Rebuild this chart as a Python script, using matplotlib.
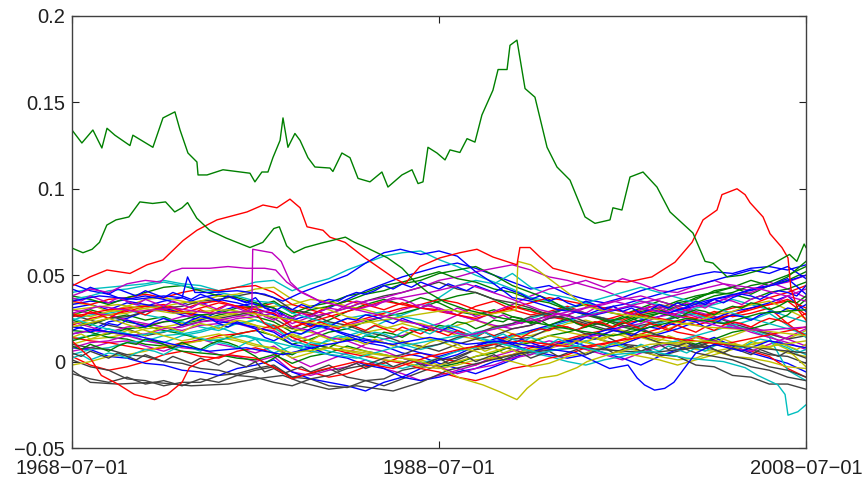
import numpy as np
import matplotlib
matplotlib.use("Agg")
import matplotlib.pyplot as plt

plt.rcParams['font.family'] = ['Liberation Sans', 'DejaVu Sans']

# ---------------- data ----------------
years = np.arange(1968.5, 2009.0, 1.0)          # yearly grid for the dense band (41 points)
half_years = np.arange(1968.5, 2008.75, 0.5)    # half-year grid (81 points)

# dense band series, values in thousandths
band_b01 = [31,33,30,34,32,35,37,33,36,34,31,27,24,27,31,36,41,45,49,52,55,57,54,50,46,42,44,39,36,34,37,41,44,47,50,52,51,54,55,53,56]
band_g02 = [24,21,25,27,24,26,22,24,27,29,26,23,17,21,24,29,33,36,33,37,34,29,27,30,26,23,27,31,33,29,27,31,35,32,37,40,43,39,44,47,52]
band_r03 = [21,25,27,29,32,33,30,34,35,32,31,34,29,27,32,35,33,30,34,31,30,27,32,35,30,27,29,32,28,25,24,28,30,27,25,29,26,28,31,22,28]
band_c04 = [13,15,19,16,12,11,15,17,20,16,13,11,4,9,12,15,18,23,27,31,37,44,47,45,51,43,39,37,34,31,29,25,22,26,28,24,20,19,15,9,4]
band_m05 = [6,8,11,12,9,6,10,13,10,8,5,9,2,-3,1,5,10,13,15,19,22,27,24,29,33,38,42,44,47,43,48,45,41,40,44,47,43,41,46,42,37]
band_y06 = [34,33,29,32,36,37,35,33,29,27,24,21,19,17,14,13,17,19,22,19,17,21,24,20,16,15,18,22,24,21,18,15,13,11,8,12,15,19,16,13,18]
band_k07 = [-7,-10,-12,-9,-13,-11,-14,-10,-12,-8,-5,-3,-9,-7,-4,-9,-11,-14,-10,-6,-2,3,7,10,7,4,9,12,15,12,10,6,3,6,9,12,10,7,4,3,-1]
band_b08 = [16,18,23,25,29,30,27,24,29,32,34,29,25,21,19,15,11,9,5,3,-1,-4,-7,-3,1,6,8,12,9,5,2,-2,3,7,10,14,9,5,2,-1,-6]
band_g09 = [27,30,27,23,21,18,16,13,12,16,18,15,10,13,17,19,23,26,28,31,35,38,40,36,32,30,27,24,21,18,23,27,29,34,36,41,43,47,44,49,58]
band_r10 = [3,-2,-5,-3,0,4,6,3,2,6,8,5,-3,-6,-9,-7,-3,-1,3,5,2,0,-2,2,4,8,10,13,16,18,22,24,21,17,15,12,8,6,3,-4,-9]
band_c11 = [40,42,43,44,45,47,45,44,41,43,46,47,41,45,48,53,57,61,63,64,59,55,50,46,42,37,35,31,28,25,23,20,23,27,31,33,36,33,30,26,23]
band_m12 = [23,20,17,15,12,10,8,7,4,3,0,3,-6,-8,-5,-3,1,-4,-7,-11,-8,-5,-2,3,6,9,12,10,7,4,1,5,9,11,14,12,8,6,10,14,19]
band_y13 = [10,13,14,16,19,20,22,25,26,28,31,32,33,36,35,32,30,27,23,22,19,15,13,10,14,18,20,17,15,12,8,6,3,1,2,6,8,10,12,7,-3]
band_k14 = [27,24,21,19,15,17,21,23,25,27,29,25,19,24,28,31,35,38,40,43,46,42,40,36,34,31,27,25,22,19,17,21,23,26,28,26,22,19,16,13,15]
band_b15 = [33,35,34,36,38,36,33,37,39,36,33,31,24,22,19,16,13,11,8,5,3,6,9,13,15,18,21,24,27,31,33,36,39,42,44,47,50,53,51,55,48]
band_g16 = [18,17,14,13,10,9,6,5,4,2,1,4,-1,3,5,9,6,4,2,-1,-3,-1,3,5,9,11,15,17,20,23,25,29,31,35,38,40,39,36,40,42,46]
band_r17 = [35,33,36,37,39,37,40,42,41,43,44,40,33,30,27,22,25,28,31,33,36,34,30,28,32,29,26,24,21,24,27,30,33,31,28,25,27,31,33,35,27]
band_c18 = [24,27,28,30,27,25,23,20,18,22,24,21,14,18,21,25,27,29,26,24,20,17,14,11,9,5,3,0,-2,1,3,6,10,12,15,18,21,24,28,21,14]
band_m19 = [16,18,17,20,21,23,26,27,24,22,19,18,12,15,19,21,24,26,30,33,31,27,24,21,19,21,25,27,31,33,36,38,35,32,29,26,23,20,17,13,9]
band_y20 = [28,26,29,30,33,31,29,27,25,23,21,19,15,12,10,8,6,4,2,1,-2,0,3,6,9,12,15,13,11,8,5,3,1,-2,1,4,7,10,8,5,3]
band_k21 = [1,-3,-5,-10,-11,-14,-12,-12,-8,-7,-4,-2,-9,-10,-14,-15,-11,-10,-5,-3,1,2,7,8,13,14,19,20,16,15,10,9,4,3,-2,-3,-8,-9,-13,-13,-16]
band_b22 = [8,7,3,2,-1,-2,-5,-6,-8,-4,-2,1,-6,-10,-12,-14,-17,-12,-9,-4,1,4,9,12,10,6,4,2,4,8,10,14,16,19,23,25,29,31,34,38,29]
band_g23 = [38,36,33,37,40,43,44,41,38,37,34,31,26,30,32,35,39,41,45,47,51,53,55,50,44,40,36,30,27,24,20,18,15,13,10,13,17,19,22,27,36]
band_r24 = [14,12,11,9,7,8,11,12,15,16,18,21,14,10,8,5,3,1,-1,-4,-6,-9,-11,-8,-4,-2,2,4,8,10,13,16,19,23,25,28,31,33,37,40,44]
band_c25 = [4,7,8,11,12,15,16,18,21,22,24,20,12,9,6,4,1,-2,-4,-1,2,6,8,11,15,17,20,23,27,29,31,35,33,30,27,24,21,18,14,-5,-11]
band_m26 = [30,28,27,24,22,20,18,21,22,25,26,28,22,26,28,31,35,37,40,43,47,49,52,54,56,53,49,47,44,41,37,35,32,29,26,23,21,17,14,11,7]
band_y27 = [-2,0,3,4,6,9,10,12,14,12,9,8,2,5,8,6,4,1,0,-3,-4,-2,1,2,4,7,8,11,12,14,16,14,11,10,7,6,3,2,0,-3,-4]
band_k28 = [20,22,25,26,29,31,32,35,36,38,40,37,30,28,23,21,17,15,11,9,6,10,13,15,19,21,25,27,23,21,17,15,11,9,5,3,1,-3,-5,-9,-11]
band_b29 = [45,41,39,35,33,31,28,27,23,22,20,17,10,8,4,2,-2,-4,-9,-11,-9,-6,-4,0,2,6,8,12,14,18,20,24,26,30,32,36,38,42,44,48,39]
band_g30 = [12,15,16,19,20,23,24,27,28,31,32,35,28,32,34,38,40,44,46,49,52,48,46,42,40,36,34,30,28,24,22,26,28,32,34,38,40,44,46,50,55]
band_r31 = [26,28,30,31,32,30,28,31,34,32,30,28,20,23,26,29,32,35,33,31,29,27,25,28,31,34,37,35,33,31,29,27,25,23,21,24,27,30,33,36,31]
band_c32 = [36,38,41,42,44,46,44,42,40,38,35,34,28,25,22,19,16,13,10,7,10,13,17,19,22,25,28,31,34,37,40,43,40,37,34,31,28,25,22,19,16]
band_m33 = [8,11,12,15,16,19,20,23,24,26,28,30,20,18,14,12,8,6,2,-1,-3,-7,-4,-2,2,4,8,10,14,16,20,22,26,28,32,34,38,40,44,46,50]
band_y34 = [22,24,27,28,31,32,34,35,38,39,42,43,36,32,30,26,24,20,18,14,12,8,6,2,0,-3,-1,3,5,9,11,15,17,21,23,27,29,33,35,30,25]
band_k35 = [10,8,7,4,3,0,-1,-4,-5,-8,-9,-12,-14,-10,-8,-4,-2,2,4,8,10,14,16,20,22,26,28,31,27,25,21,19,15,13,9,7,3,1,-3,-5,-9]

band_series = [band_b01, band_g02, band_r03, band_c04, band_m05, band_y06, band_k07,
               band_b08, band_g09, band_r10, band_c11, band_m12, band_y13, band_k14,
               band_b15, band_g16, band_r17, band_c18, band_m19, band_y20, band_k21,
               band_b22, band_g23, band_r24, band_c25, band_m26, band_y27, band_k28,
               band_b29, band_g30, band_r31, band_c32, band_m33, band_y34, band_k35]

# half-year band series, values in thousandths (81 points each)
half_b1 = [18,20,17,19,22,21,24,22,20,23, 25,23,21,24,26,25,22,20,23,21, 19,14,12,15,17,16,19,21,20,23,
           25,24,27,26,24,22,25,23,21,19, 17,20,18,16,15,17,14,12,10,13, 11,9,8,10,12,11,14,13,16,18,
           17,15,18,20,19,22,21,24,23,20, 22,25,27,26,24,27,29,28,31,30, 33]
half_g2 = [9,7,10,8,6,9,11,10,13,12, 10,8,11,9,7,10,12,11,9,6, 3,-1,2,5,4,7,6,9,8,11,
           13,12,15,14,17,16,14,17,19,18, 21,20,23,22,19,21,24,23,26,25, 22,24,21,23,25,22,20,23,21,24,
           26,25,23,26,28,27,25,28,30,29, 27,30,32,31,34,33,30,32,35,34, 38]
half_r3 = [28,26,29,27,25,28,30,29,27,30, 32,31,29,27,30,28,31,33,32,30, 28,22,19,21,24,22,20,23,21,19,
           22,20,18,21,19,17,20,18,16,19, 17,15,18,16,14,17,15,13,16,14, 17,19,18,21,20,18,21,23,22,20,
           23,21,19,22,20,18,21,19,17,20, 18,21,23,22,20,23,25,24,22,18, 15]
half_c4 = [2,4,1,3,5,4,2,5,7,6, 4,7,9,8,6,9,11,10,8,11, 13,8,5,7,9,8,11,10,13,15,
           14,12,15,17,16,14,17,19,18,16, 19,21,20,18,15,17,14,16,13,11, 14,12,10,13,11,9,12,10,8,11,
           9,7,10,8,6,9,7,5,8,6, 9,11,10,8,11,13,12,10,8,5, 7]
half_m5 = [37,35,38,36,34,37,35,33,36,34, 32,35,33,31,34,32,30,33,31,29, 32,26,24,27,25,28,26,29,31,30,
           33,35,34,32,35,37,36,34,31,33, 30,28,31,29,26,28,25,27,24,22, 25,23,26,28,27,29,28,31,30,32,
           29,27,30,32,31,29,32,34,33,31, 34,36,35,33,36,38,37,35,38,40, 42]
half_y6 = [14,16,13,15,17,16,18,17,15,18, 20,19,17,20,22,21,19,22,24,23, 21,17,15,13,16,14,12,15,13,11,
           14,12,10,13,11,9,12,10,8,11, 13,12,10,7,9,6,8,5,7,4, 6,8,7,10,9,12,11,14,13,16,
           15,13,16,14,12,15,13,11,14,12, 10,13,11,9,12,10,8,11,9,7, 10]
half_k7 = [5,3,6,4,2,5,3,1,4,2, 0,3,1,-1,2,0,-2,1,-1,-3, 0,-6,-4,-7,-5,-3,-6,-4,-2,-5,
           -3,-1,-4,-2,0,-3,-1,1,-2,0, 2,-1,1,3,0,2,4,1,3,5, 2,4,6,3,5,7,4,6,8,5,
           7,9,6,8,10,7,9,11,8,10, 7,5,8,6,4,7,5,3,6,4, 2]
half_b8 = [42,40,43,41,39,42,40,38,41,39, 37,40,38,36,39,37,35,38,36,34, 37,31,29,32,30,33,31,34,36,35,
           38,40,39,41,44,42,45,43,46,44, 42,45,43,41,44,42,40,43,41,39, 36,38,35,37,34,32,35,33,30,32,
           29,31,28,30,33,31,34,32,35,33, 36,34,37,39,38,36,39,41,40,38, 44]

half_series = [half_b1, half_g2, half_r3, half_c4, half_m5, half_y6, half_k7, half_b8]

# distinctive series: (years, values)
g1_x = [1968.5,1969.04,1969.64,1970.13,1970.41,1970.84,1971.66,1971.82,1972.91,1973.46,1974.11,1974.39,1974.82,1975.31,1975.37,
        1975.86,1976.73,1978.2,1978.47,1978.85,1979.18,1979.45,1979.84,1980.0,1980.27,1980.65,1980.93,1981.36,1981.74,1982.56,
        1982.72,1983.21,1983.65,1984.09,1984.74,1985.39,1985.72,1986.48,1987.03,1987.36,1987.63,1987.9,1988.39,1988.83,1989.1,
        1989.64,1990.03,1990.46,1990.84,1991.44,1991.72,1992.21,1992.37,1992.75,1993.19,1993.73,1994.39,1994.93,1995.64,1996.46,
        1997.0,1997.82,1997.98,1998.47,1998.91,1999.62,2000.38,2001.09,2002.34,2003.0,2003.43,2004.2,2005.0,2006.0,2006.6,
        2007.6,2008.0,2008.4,2008.5]
g1_y = [0.134,0.1265,0.134,0.1236,0.135,0.131,0.125,0.131,0.124,0.141,0.1445,0.134,0.1207,0.1155,0.108,
        0.108,0.111,0.109,0.104,0.1097,0.1097,0.118,0.128,0.141,0.124,0.132,0.128,0.118,0.1126,0.112,
        0.110,0.1207,0.118,0.106,0.104,0.1097,0.101,0.108,0.111,0.103,0.104,0.124,0.1207,0.1167,0.1225,
        0.121,0.129,0.127,0.1427,0.157,0.169,0.169,0.183,0.186,0.158,0.153,0.124,0.1126,0.105,0.0837,
        0.080,0.082,0.089,0.0877,0.1068,0.1097,0.101,0.0866,0.0744,0.058,0.057,0.049,0.050,0.053,0.056,
        0.062,0.058,0.068,0.066]

g2_x = [1968.5,1969.1,1969.6,1970.0,1970.4,1970.9,1971.6,1972.2,1972.9,1973.6,1974.1,1974.5,1974.8,1975.3,1976.0,
        1976.9,1978.2,1978.9,1979.5,1979.8,1980.2,1980.6,1981.2,1982.1,1983.4,1983.9,1984.6,1985.7,1986.5,1987.2,
        1987.9,1988.8,1990.0,1992.0,1994.0,1996.0,1998.0,2000.0,2002.0,2004.0,2006.0,2008.5]
g2_y = [0.0657,0.063,0.065,0.069,0.079,0.082,0.0837,0.0924,0.0915,0.0924,0.0866,0.089,0.092,0.083,0.076,
        0.0715,0.066,0.069,0.077,0.078,0.067,0.063,0.066,0.0686,0.072,0.069,0.0657,0.060,0.054,0.046,
        0.040,0.0345,0.030,0.025,0.022,0.018,0.015,0.020,0.025,0.022,0.028,0.030]

r1_x = [1968.55,1969.48,1970.41,1971.66,1972.59,1973.46,1974.55,1975.31,1976.4,1978.04,1978.91,1979.67,1980.38,1980.93,1981.31,
        1982.18,1982.56,1983.38,1984.47,1986.1,1986.65,1987.46,1988.55,1989.64,1990.57,1991.44,1992.75,1992.91,1993.46,1994.0,
        1994.71,1995.8,1996.57,1997.44,1998.75,2000.1,2001.36,2002.29,2002.89,2003.65,2003.92,2004.74,2005.18,2005.45,2006.16,
        2006.54,2007.19,2007.52,2007.68,2008.06,2008.5]
r1_y = [0.044,0.049,0.053,0.051,0.056,0.0588,0.070,0.076,0.082,0.0866,0.0906,0.089,0.094,0.089,0.078,
        0.076,0.072,0.069,0.060,0.048,0.045,0.055,0.060,0.063,0.065,0.0605,0.056,0.066,0.066,0.0605,
        0.054,0.051,0.049,0.047,0.046,0.049,0.0575,0.069,0.082,0.0877,0.0966,0.100,0.0966,0.092,0.0837,
        0.074,0.066,0.060,0.042,0.030,0.024]

m1_x = [1968.5,1969.5,1970.5,1971.5,1972.5,1973.3,1973.9,1974.5,1976.0,1977.0,1978.0,1979.0,1979.6,1980.2,1981.0,
        1982.0,1984.0,1986.0,1988.0,1990.0,1992.0,1994.0,1996.0,1998.0,2000.0,2002.0,2004.0,2006.0,2008.5]
m1_y = [0.038,0.042,0.040,0.045,0.047,0.046,0.052,0.054,0.054,0.055,0.054,0.054,0.053,0.046,0.040,
        0.035,0.030,0.025,0.020,0.015,0.020,0.025,0.030,0.035,0.030,0.025,0.020,0.018,0.020]

m2_x = [1968.5,1970.0,1972.0,1974.0,1976.0,1978.3,1978.35,1979.4,1979.9,1980.4,1980.9,1982.0,1984.0,1986.0,1988.0,
        1990.0,1992.0,1994.0,1996.0,1998.0,2000.0,2002.0,2004.0,2006.0,2008.5]
m2_y = [0.028,0.032,0.029,0.031,0.028,0.029,0.065,0.063,0.058,0.046,0.041,0.035,0.030,0.036,0.040,
        0.045,0.038,0.030,0.025,0.030,0.035,0.040,0.045,0.042,0.035]

y1_x = [1968.5,1970.5,1972.5,1974.5,1976.5,1978.5,1980.5,1982.5,1984.5,1986.5,1987.5,1988.55,1989.64,1990.9,1991.82,
        1992.75,1993.3,1994.0,1994.93,1996.02,1996.57,1998.0,2000.0,2003.0,2006.0,2008.5]
y1_y = [0.020,0.025,0.018,0.012,0.016,0.010,0.005,0.008,0.005,0.002,0.000,-0.0035,-0.0095,-0.0135,-0.0175,
        -0.022,-0.0155,-0.0095,-0.008,-0.0035,0.000,0.005,0.010,0.012,0.008,0.012]

y2_x = [1968.5,1971.0,1974.0,1977.0,1980.0,1983.0,1986.0,1989.0,1991.0,1992.7,1992.8,1993.5,1994.5,1995.5,1996.5,
        1998.0,2000.0,2003.0,2006.0,2008.5]
y2_y = [0.030,0.033,0.028,0.030,0.025,0.020,0.025,0.030,0.027,0.030,0.058,0.056,0.048,0.040,0.032,
        0.028,0.025,0.020,0.018,0.015]

b1_x = [1968.5,1970.0,1972.0,1974.0,1976.0,1978.0,1980.0,1982.0,1984.0,1986.0,1988.0,1990.0,1992.0,1994.0,1996.0,
        1997.0,1997.8,1998.8,1999.3,1999.7,2000.25,2000.8,2001.3,2001.9,2002.5,2003.5,2005.0,2006.5,2008.5]
b1_y = [0.020,0.018,0.015,0.010,0.006,0.008,0.004,0.009,0.013,0.010,0.014,0.010,0.012,0.008,0.005,
        0.000,-0.004,-0.002,-0.0095,-0.0135,-0.0165,-0.0155,-0.012,-0.0035,0.005,0.010,0.006,0.012,0.008]

b2_x = [1968.5,1970.0,1972.0,1973.5,1974.5,1974.8,1975.2,1976.0,1977.5,1979.0,1980.0,1981.0,1982.5,1983.5,1984.5,
        1985.5,1986.4,1987.5,1988.5,1989.5,1990.5,1991.5,1992.5,1993.5,1995.0,1997.0,1999.0,2001.0,2003.0,2005.0,
        2007.0,2008.5]
b2_y = [0.035,0.038,0.036,0.038,0.037,0.049,0.040,0.040,0.041,0.039,0.035,0.040,0.046,0.050,0.057,
        0.063,0.065,0.062,0.064,0.061,0.052,0.045,0.037,0.035,0.030,0.027,0.032,0.028,0.035,0.040,
        0.045,0.050]

c1_x = [1968.5,1970.0,1972.0,1974.0,1976.0,1978.0,1980.0,1982.0,1984.0,1986.0,1988.0,1990.0,1992.0,1994.0,1996.0,
        1998.0,2000.0,2002.0,2004.0,2005.18,2005.88,2006.97,2007.36,2007.52,2008.06,2008.5]
c1_y = [0.025,0.020,0.015,0.018,0.012,0.015,0.010,0.005,0.002,0.008,0.012,0.016,0.010,0.005,0.009,
        0.004,0.006,0.002,0.000,-0.0035,-0.008,-0.0135,-0.019,-0.031,-0.029,-0.025]

r2_x = [1968.5,1969.5,1970.1,1971.0,1971.9,1973.0,1973.7,1974.5,1974.9,1975.5,1977.0,1978.5,1979.8,1980.5,1982.0,
        1984.0,1986.0,1988.0,1990.0,1993.0,1996.0,2000.0,2004.0,2008.5]
r2_y = [0.012,0.002,-0.008,-0.013,-0.019,-0.022,-0.019,-0.012,-0.0035,0.000,0.004,0.002,-0.005,-0.010,-0.005,
        0.000,-0.004,0.003,0.008,0.012,0.008,0.015,0.010,0.020]

k1_x = [1968.5,1969.5,1971.0,1973.0,1975.0,1977.0,1978.5,1980.0,1981.0,1982.5,1984.0,1986.0,1987.5,1989.0,1991.0,
        1993.0,1996.0,2000.0,2004.0,2008.5]
k1_y = [-0.005,-0.012,-0.013,-0.012,-0.014,-0.013,-0.010,-0.008,-0.012,-0.016,-0.014,-0.017,-0.012,-0.005,0.000,
        0.005,0.008,0.005,0.010,0.005]

xtick_pos = [1968.5, 1988.5, 2008.5]
xtick_labels = ['1968\u221207\u221201', '1988\u221207\u221201', '2008\u221207\u221201']
ytick_pos = [-0.05, 0.0, 0.05, 0.1, 0.15, 0.2]
ytick_labels = ['\u22120.05', '0', '0.05', '0.1', '0.15', '0.2']

# ---------------- style ----------------
C = {'b': (0, 0, 1), 'g': (0, 0.5, 0), 'r': (1, 0, 0), 'c': (0, 0.75, 0.75),
     'm': (0.75, 0, 0.75), 'y': (0.75, 0.75, 0), 'k': (0.25, 0.25, 0.25)}
order = ['b', 'g', 'r', 'c', 'm', 'y', 'k']

fig = plt.figure(figsize=(8.66, 4.79), dpi=100)
ax = fig.add_axes([0.0831, 0.0647, 0.8476, 0.902])
lw = 1.0

for i, s in enumerate(band_series):
    ax.plot(years, np.array(s) / 1000.0, color=C[order[i % 7]], lw=lw)

for i, s in enumerate(half_series):
    xs = half_years[:len(s)]
    ax.plot(xs, np.array(s[:len(xs)]) / 1000.0, color=C[order[i % 7]], lw=lw)

special = [(k1_x, k1_y, 'k'), (r2_x, r2_y, 'r'), (c1_x, c1_y, 'c'), (b2_x, b2_y, 'b'),
           (b1_x, b1_y, 'b'), (y2_x, y2_y, 'y'), (y1_x, y1_y, 'y'), (m2_x, m2_y, 'm'),
           (m1_x, m1_y, 'm'), (r1_x, r1_y, 'r'), (g2_x, g2_y, 'g'), (g1_x, g1_y, 'g')]
for xs, ys, c in special:
    ax.plot(xs, ys, color=C[c], lw=lw)

ax.set_xlim(1968.5, 2008.5)
ax.set_ylim(-0.05, 0.2)
ax.set_xticks(xtick_pos)
ax.set_xticklabels(xtick_labels)
ax.set_yticks(ytick_pos)
ax.set_yticklabels(ytick_labels)
ax.tick_params(direction='in', top=True, right=True, length=5, width=0.8,
               labelsize=14.5, colors='#202020')
ax.tick_params(axis='y', pad=5)
ax.tick_params(axis='x', pad=8)
for sp in ax.spines.values():
    sp.set_color('#404040')
    sp.set_linewidth(1.0)

fig.savefig('out.png', dpi=100)
